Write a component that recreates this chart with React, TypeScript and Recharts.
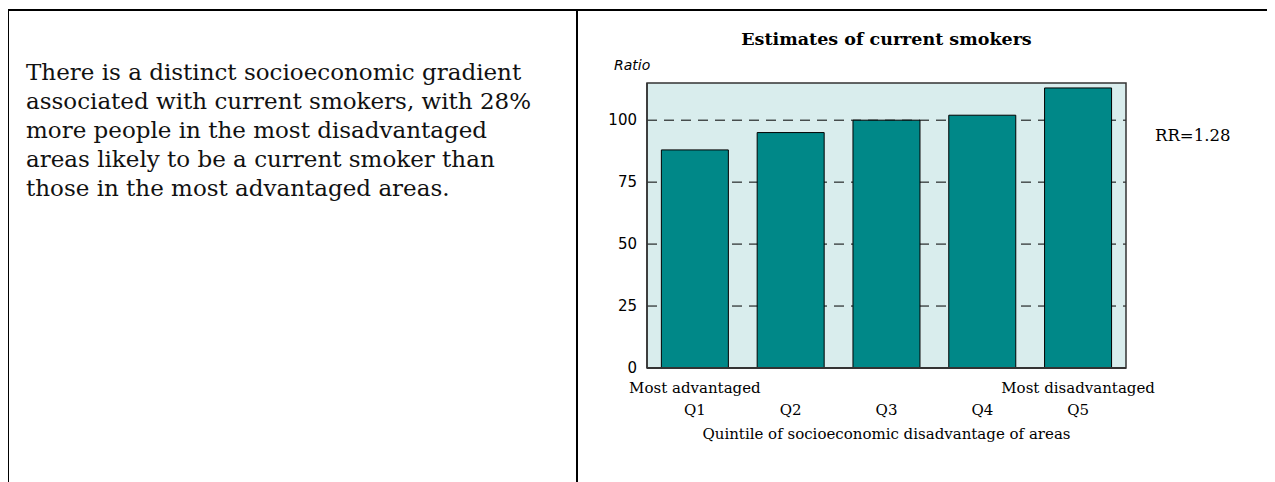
import React from 'react';
import { BarChart, Bar, XAxis, YAxis, CartesianGrid, ReferenceArea } from 'recharts';

const categories = ['Q1', 'Q2', 'Q3', 'Q4', 'Q5'];
const ratios = [88, 95, 100, 102, 113];
const yTicks = [0, 25, 50, 75, 100];
const gridValues = [25, 50, 75, 100];
const endLabels = ['Most advantaged', '', '', '', 'Most disadvantaged'];
const chartTitle = 'Estimates of current smokers';
const yTitle = 'Ratio';
const xTitle = 'Quintile of socioeconomic disadvantage of areas';
const rrLabel = 'RR=1.28';
const paragraph = [
  'There is a distinct socioeconomic gradient',
  'associated with current smokers, with 28%',
  'more people in the most disadvantaged',
  'areas likely to be a current smoker than',
  'those in the most advantaged areas.',
];

const data = categories.map((c, i) => ({ name: c, value: ratios[i] }));

const sansFont = '"DejaVu Sans", sans-serif';
const serifFont = '"DejaVu Serif", serif';

const XTick = (props: any) => {
  const { x, y, payload, index } = props;
  return (
    <g>
      {endLabels[index] ? (
        <text x={x} y={y + 23} textAnchor="middle" fontSize={15} fontFamily={serifFont} fill="#000">
          {endLabels[index]}
        </text>
      ) : null}
      <text x={x} y={y + 45} textAnchor="middle" fontSize={15} fontFamily={serifFont} fill="#000">
        {payload.value}
      </text>
    </g>
  );
};

export default function App() {
  return (
    <div style={{ position: 'relative', width: 1275, height: 482 }}>
      <div style={{ position: 'absolute', left: -1, top: 1, width: 1267, height: 2, background: '#000' }} />
      <div style={{ position: 'absolute', left: -1, top: 1, width: 2, height: 473, background: '#000' }} />
      <div style={{ position: 'absolute', left: 568, top: 1, width: 2, height: 473, background: '#000' }} />
      <div
        style={{
          position: 'absolute',
          left: 18,
          top: 50,
          fontFamily: serifFont,
          fontSize: 23,
          lineHeight: '29px',
          color: '#111',
          whiteSpace: 'pre',
        }}
      >
        {paragraph.map((l, i) => (
          <div key={i}>{l}</div>
        ))}
      </div>
      <div
        style={{
          position: 'absolute',
          left: 639,
          width: 479,
          top: 21,
          textAlign: 'center',
          fontFamily: serifFont,
          fontWeight: 'bold',
          fontSize: 17.5,
        }}
      >
        {chartTitle}
      </div>
      <div
        style={{ position: 'absolute', left: 606, top: 49, fontFamily: sansFont, fontStyle: 'italic', fontSize: 14 }}
      >
        {yTitle}
      </div>
      <div style={{ position: 'absolute', left: 1147, top: 118, fontFamily: serifFont, fontSize: 16.5 }}>{rrLabel}</div>
      <div
        style={{
          position: 'absolute',
          left: 639,
          width: 479,
          top: 417,
          textAlign: 'center',
          fontFamily: serifFont,
          fontSize: 15,
        }}
      >
        {xTitle}
      </div>
      <div style={{ position: 'absolute', left: 569, top: -8 }}>
        <BarChart
          width={700}
          height={482}
          data={data}
          margin={{ top: 83, right: 151, bottom: 54, left: 8 }}
          barCategoryGap="15%"
        >
          <CartesianGrid
            vertical={false}
            horizontalValues={gridValues}
            stroke="#000"
            strokeDasharray="10 7"
            fill="#d9eded"
            fillOpacity={1}
          />
          <XAxis
            dataKey="name"
            height={60}
            tickLine={false}
            tickSize={0}
            tick={<XTick />}
            interval={0}
            axisLine={{ stroke: '#333', strokeWidth: 2 }}
          />
          <YAxis
            domain={[0, 115]}
            ticks={yTicks}
            width={62}
            tickLine={false}
            tickSize={0}
            tickMargin={10}
            interval={0}
            axisLine={{ stroke: '#333', strokeWidth: 1.5 }}
            tick={{ fontSize: 15, fill: '#000', fontFamily: sansFont }}
          />
          <Bar dataKey="value" fill="#008888" stroke="#000" strokeWidth={1} isAnimationActive={false} />
          <ReferenceArea y1={0} y2={115} fill="none" stroke="#333" strokeWidth={1.5} ifOverflow="visible" />
        </BarChart>
      </div>
    </div>
  );
}
